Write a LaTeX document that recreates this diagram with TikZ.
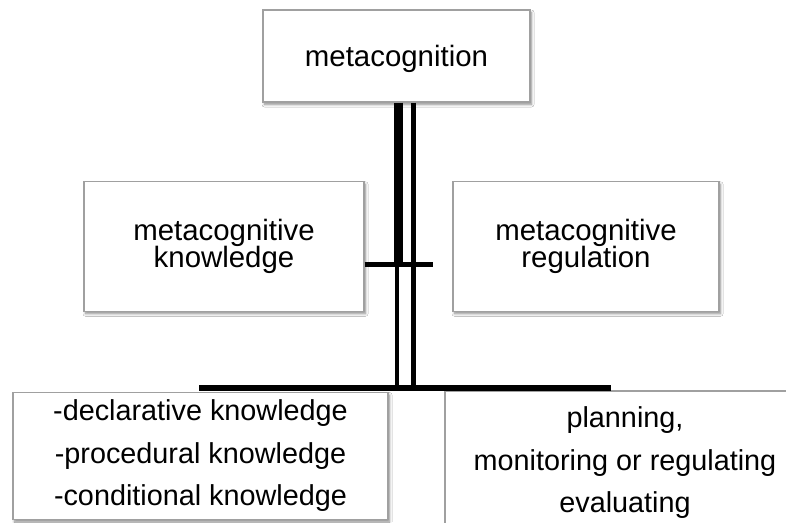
\documentclass[tikz,border=0pt]{standalone}
\usepackage{fontspec}
\setmainfont{Liberation Sans}
\usetikzlibrary{shadows.blur}
\definecolor{boxline}{HTML}{A0A0A0}
\tikzset{
  card/.style={draw=boxline, line width=1.2pt, fill=white, inner sep=0pt,
    align=center, text=black,
    blur shadow={shadow xshift=1.5pt, shadow yshift=-2.5pt,
      shadow blur radius=2.5pt, shadow blur steps=6, shadow opacity=45}},
  tight/.style={font=\fontsize{29.4}{27.5}\selectfont},
  loose/.style={font=\fontsize{28.8}{42.5}\selectfont},
  bar/.style={draw=black, line cap=butt},
}
\begin{document}
\begin{tikzpicture}[x=1pt, y=-1pt]
  \useasboundingbox (0,0) rectangle (786,522);
  \fill[white] (0,0) rectangle (786,522);
  \clip (0,0) rectangle (786,522);

  % boxes
  \node[card, tight, text height=27pt, text depth=6pt,
        minimum width=267pt, minimum height=92pt] (top) at (396.5,56) {metacognition};
  \node[card, tight, minimum width=280pt, minimum height=129.5pt] (know) at (224,246.5) {metacognitive\\knowledge};
  \node[card, tight, minimum width=266pt, minimum height=129.5pt] (reg) at (586,246.5) {metacognitive\\regulation};
  \node[card, loose, minimum width=375pt, minimum height=127pt] (kinds) at (200.5,456) {-declarative knowledge\\-procedural knowledge\\-conditional knowledge};
  \node[card, loose, minimum width=360pt, minimum height=144pt] (acts) at (625,463) {planning,\\monitoring or regulating\\evaluating};

  % junction points
  \coordinate (cross) at (398.7,264);
  \coordinate (crossB) at (397.2,264);
  \coordinate (railR) at (413.2,264);
  \coordinate (base) at (405,388);
  \coordinate (midEnd) at (433,264);
  \coordinate (baseL) at (199,388);
  \coordinate (baseR) at (611,388);

  % connectors
  \draw[bar, line width=9.3pt] (top.south -| cross) -- (cross);
  \draw[bar, line width=4.4pt] (crossB) -- (crossB |- base);
  \draw[bar, line width=5pt] (top.south -| railR) -- (railR |- base);
  \draw[bar, line width=5pt] (know.east |- cross) -- (midEnd);
  \draw[bar, line width=6pt] (baseL) -- (baseR);
\end{tikzpicture}
\end{document}
